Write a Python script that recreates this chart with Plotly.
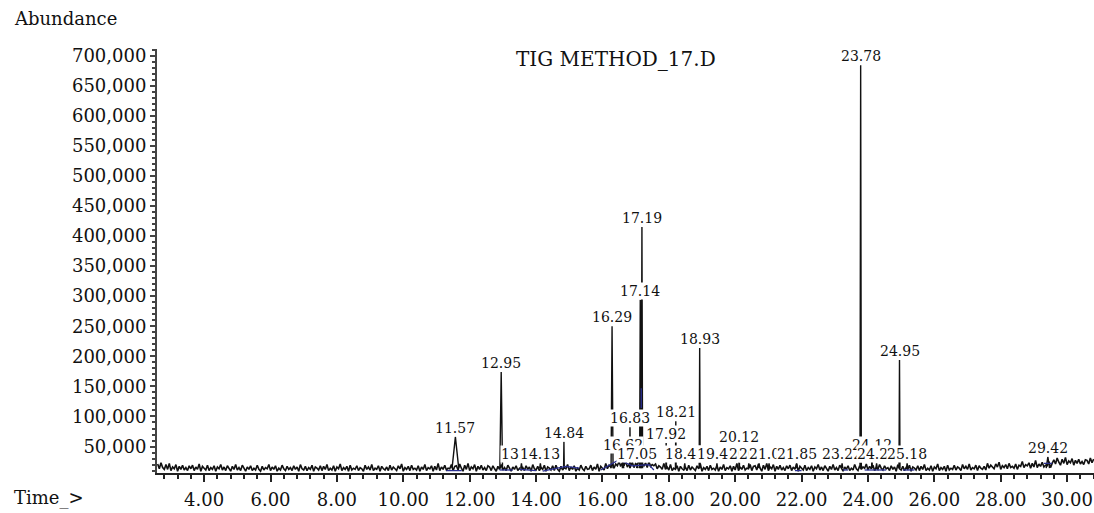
import numpy as np
import plotly.graph_objects as go

# ---------------- data ----------------
# baseline (total ion current) sampled every 0.05 min from 2.6 to 30.8, values in thousands
baseline_k = [
    21, 13, 23, 15, 12, 20, 12, 22, 10, 16, 13, 20, 9, 17, 12, 19, 11, 15, 10, 18,
    13, 19, 10, 16, 12, 21, 9, 17, 14, 11, 19, 10, 15, 12, 18, 9, 16, 13, 20, 11,
    16, 10, 18, 13, 9, 17, 12, 20, 11, 15, 10, 19, 13, 9, 16, 12, 18, 10, 14, 11,
    19, 12, 9, 17, 11, 15, 13, 20, 10, 16, 12, 18, 9, 14, 11, 19, 13, 10, 17, 12,
    15, 10, 18, 12, 16, 9, 20, 13, 11, 17, 10, 15, 12, 19, 9, 16, 14, 11, 18, 10,
    17, 12, 20, 10, 14, 11, 18, 9, 16, 13, 21, 10, 15, 12, 17, 9, 19, 11, 14, 12,
    18, 10, 15, 13, 9, 19, 12, 16, 11, 20, 10, 14, 12, 18, 9, 17, 13, 11, 16, 10,
    19, 11, 16, 12, 10, 18, 13, 21, 9, 15, 12, 17, 10, 19, 12, 14, 11, 18, 9, 16,
    12, 20, 10, 15, 13, 18, 9, 17, 11, 22, 10, 16, 12, 19, 11, 14, 13, 20, 10, 17,
    18, 11, 21, 14, 9, 19, 12, 22, 10, 16, 13, 20, 9, 17, 12, 19, 11, 15, 10, 18,
    16, 10, 18, 13, 9, 17, 12, 20, 11, 15, 10, 19, 13, 9, 16, 12, 18, 10, 14, 11,
    15, 10, 18, 12, 16, 9, 20, 13, 11, 17, 10, 15, 12, 19, 9, 16, 14, 11, 18, 10,
    19, 12, 9, 17, 11, 15, 13, 20, 10, 16, 12, 18, 9, 14, 11, 19, 13, 10, 17, 12,
    13, 19, 10, 16, 12, 21, 9, 17, 14, 11, 22, 13, 19, 16, 22, 14, 21, 18, 25, 17,
    23, 18, 26, 16, 20, 17, 24, 15, 22, 19, 27, 16, 21, 18, 23, 15, 25, 17, 20, 18,
    21, 13, 18, 16, 12, 22, 12, 16, 11, 20, 10, 14, 12, 18, 9, 17, 13, 11, 16, 10,
    19, 11, 16, 12, 10, 18, 13, 21, 9, 15, 12, 17, 10, 19, 12, 14, 11, 18, 9, 16,
    12, 20, 10, 15, 13, 18, 9, 17, 11, 22, 10, 16, 12, 19, 11, 14, 13, 20, 10, 17,
    18, 11, 21, 14, 9, 19, 12, 22, 10, 16, 13, 20, 9, 17, 12, 19, 11, 15, 10, 18,
    13, 19, 10, 16, 12, 21, 9, 17, 14, 11, 19, 10, 15, 12, 18, 9, 16, 13, 20, 11,
    16, 10, 18, 13, 9, 17, 12, 20, 11, 15, 10, 19, 13, 9, 16, 12, 18, 10, 14, 11,
    20, 13, 10, 18, 12, 16, 14, 21, 11, 17, 13, 19, 10, 15, 12, 20, 14, 11, 18, 13,
    15, 10, 18, 12, 16, 9, 20, 13, 11, 17, 10, 15, 12, 19, 9, 16, 14, 11, 18, 10,
    17, 12, 20, 10, 14, 11, 18, 9, 16, 13, 21, 10, 15, 12, 17, 9, 19, 11, 14, 12,
    19, 11, 16, 14, 10, 20, 13, 17, 12, 21, 11, 15, 13, 19, 10, 18, 14, 12, 17, 11,
    22, 14, 19, 15, 13, 21, 16, 24, 12, 18, 15, 20, 13, 22, 15, 17, 14, 21, 12, 19,
    17, 25, 15, 20, 18, 23, 14, 22, 16, 27, 15, 21, 17, 24, 16, 19, 18, 25, 15, 22,
    28, 21, 31, 24, 19, 29, 22, 32, 20, 26, 23, 30, 19, 27, 22, 29, 21, 25, 20, 28,
    27, 21, 31, 23, 29,
]
time_start = 2.6
time_step = 0.05

# labelled peaks: retention time (min), apex abundance, half width (min)
peak_times = [11.57, 12.95, 13.56, 14.13, 14.84, 16.29, 16.62, 16.83, 17.05, 17.14,
              17.19, 17.92, 18.21, 18.48, 18.93, 19.45, 20.12, 20.41, 20.72, 21.02,
              21.85, 23.22, 23.78, 24.12, 24.26, 24.95, 25.18, 29.42]
peak_heights = [66000, 174000, 22000, 22000, 58000, 250000, 38000, 82000, 22000, 294000,
                415000, 56000, 92000, 22000, 214000, 22000, 51000, 22000, 22000, 22000,
                22000, 22000, 684000, 38000, 22000, 194000, 22000, 33000]
peak_halfwidths = [0.10, 0.04, 0.02, 0.02, 0.01, 0.03, 0.02, 0.01, 0.02, 0.02,
                   0.02, 0.01, 0.01, 0.02, 0.015, 0.02, 0.01, 0.02, 0.02, 0.02,
                   0.02, 0.02, 0.02, 0.01, 0.02, 0.015, 0.02, 0.05]
peak_base = 14000

# integration baseline marks (blue), segments separated by None
integ_t = [11.30, 11.76, None, 12.90, 13.30, None, 13.50, 14.00, None,
           14.20, 14.90, 15.30, None, 15.95, 16.50, 16.90, 17.40, 17.55, None,
           17.17, 17.17, None, 21.80, 22.00, None, 23.25, 23.40, None,
           23.90, 24.55, None, 25.05, 25.40, None, 29.30, 29.55]
integ_v = [10000, 10000, None, 11000, 11000, None, 12000, 10000, None,
           9000, 17000, 14000, None, 11000, 28000, 18000, 20000, 11000, None,
           114000, 147000, None, 10000, 10000, None, 11000, 11000, None,
           11000, 11000, None, 11000, 11000, None, 22000, 22000]

title_text = "TIG METHOD_17.D"
y_label = "Abundance"
x_label = "Time_>"

# ---------------- figure ----------------
times = np.round(time_start + time_step * np.arange(len(baseline_k)), 3)
values = np.array(baseline_k) * 1000

fig = go.Figure()
fig.add_trace(go.Scatter(x=times, y=values, mode="lines",
                         line=dict(color="#111111", width=1.6), hoverinfo="skip"))

for t, h, w in zip(peak_times, peak_heights, peak_halfwidths):
    fig.add_trace(go.Scatter(x=[t - w, t, t + w], y=[peak_base, h, peak_base],
                             mode="lines", line=dict(color="#111111", width=1.4),
                             hoverinfo="skip"))

fig.add_trace(go.Scatter(x=integ_t, y=integ_v, mode="lines",
                         line=dict(color="#2a2f8f", width=1.3), connectgaps=False,
                         hoverinfo="skip"))

label_font = dict(family="DejaVu Serif", size=14, color="#111111")
for t, h in zip(peak_times, peak_heights):
    fig.add_annotation(x=t, y=h, text=f"{t:.2f}", showarrow=False,
                       xanchor="center", yanchor="bottom", bgcolor="white",
                       borderpad=0, font=label_font, yshift=0)

axis_font = dict(family="DejaVu Serif", size=18, color="#111111")
fig.add_annotation(xref="paper", yref="paper", x=0.49, y=0.976, text=title_text,
                   showarrow=False, xanchor="center", yanchor="middle",
                   font=dict(family="DejaVu Serif", size=20, color="#111111"))
fig.add_annotation(xref="paper", yref="paper", x=-0.155, y=1.073, text=y_label,
                   showarrow=False, xanchor="left", yanchor="middle", font=axis_font)
fig.add_annotation(xref="paper", yref="paper", x=-0.155, y=-0.058, text=x_label,
                   showarrow=False, xanchor="left", yanchor="middle", font=axis_font)

fig.update_layout(
    width=1094, height=513,
    margin=dict(l=157, r=0, t=49, b=40),
    paper_bgcolor="white", plot_bgcolor="white",
    showlegend=False,
)
fig.update_xaxes(
    range=[2.58, 30.81], dtick=2, tick0=0, tickformat=".2f", automargin=False,
    showline=True, linecolor="#222222", linewidth=1.5,
    ticks="outside", ticklen=7, tickwidth=1.5, tickcolor="#222222",
    ticklabelstandoff=3,
    minor=dict(dtick=0.4, ticks="outside", ticklen=4, tickcolor="#222222"),
    showgrid=False, zeroline=False, tickfont=axis_font,
)
fig.update_yaxes(
    range=[6000, 711000], dtick=50000, tick0=0, tickformat=",d", automargin=False,
    showline=True, linecolor="#444444", linewidth=2,
    ticks="outside", ticklen=5, tickwidth=1.5, tickcolor="#444444",
    minor=dict(dtick=10000, ticks="outside", ticklen=3, tickcolor="#444444"),
    showgrid=False, zeroline=False, tickfont=axis_font,
)

fig.write_html("out.html", config={"displayModeBar": False},
               post_script="document.body.style.margin='0px';")
